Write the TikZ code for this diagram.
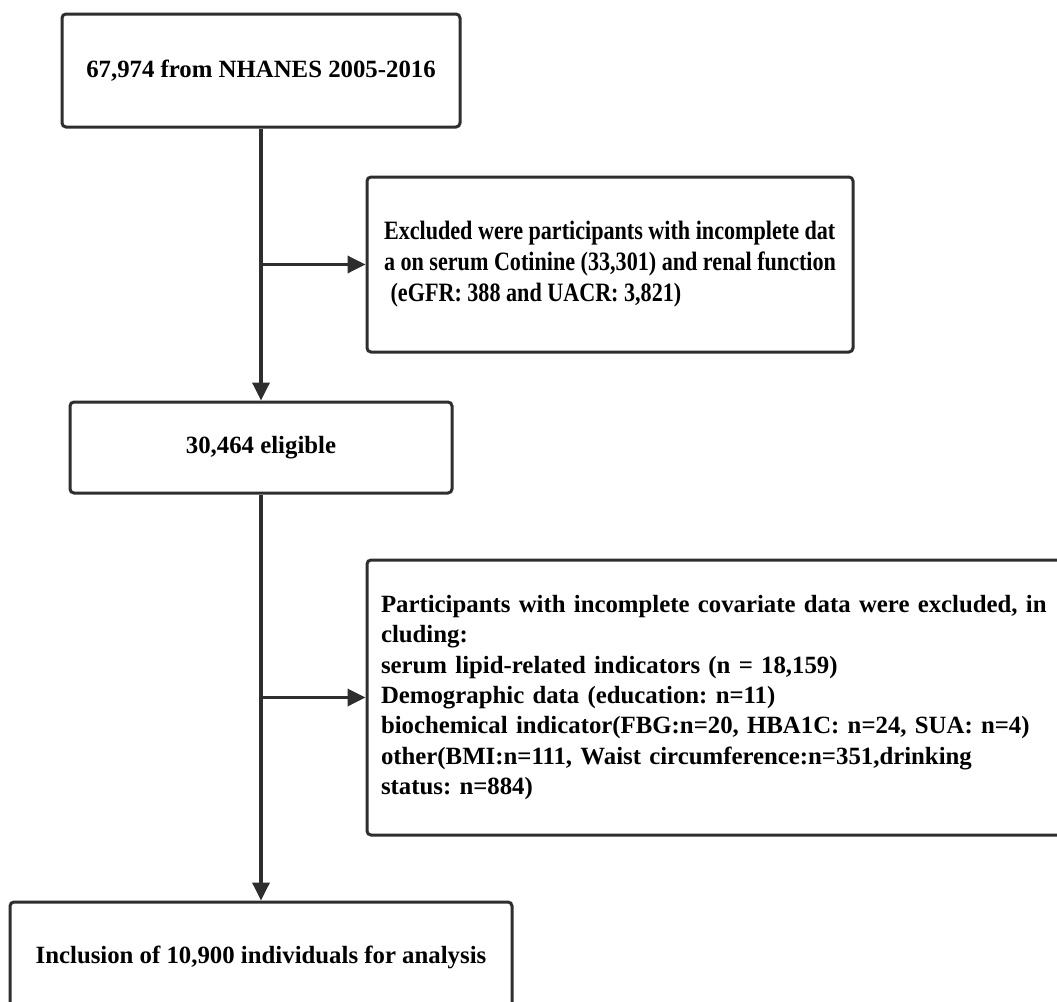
\documentclass[tikz,border=0pt]{standalone}
\usepackage{fontspec}
\setmainfont{Liberation Serif}
\newfontfamily\estreita{Liberation Serif}[FakeStretch=0.835]
\usepackage{xcolor}
\usetikzlibrary{arrows.meta}
\definecolor{linha}{HTML}{2E2E2E}

\tikzset{
  caixa/.style={draw=linha, line width=3pt, rounded corners=4pt, fill=white,
    inner sep=0pt, font=\frenchspacing\fontsize{24.8}{30.3}\selectfont\bfseries},
  caixaestreita/.style={caixa, font=\frenchspacing\estreita\fontsize{26.5}{31}\selectfont\bfseries},
  seta/.style={draw=linha, line width=3.5pt, -{Triangle[length=18pt,width=17pt]}}
}

\begin{document}
\begin{tikzpicture}[x=1pt,y=-1pt]
        \useasboundingbox (0,0) rectangle (1057,1001);

        % Caixas principais
        \node[caixa, minimum width=398pt, minimum height=113pt] (total) at (261,70.5) {67,974 from NHANES 2005-2016};
        \node[caixa, minimum width=382pt, minimum height=91pt] (elegivel) at (261,447.5) {30,464 eligible};
        \node[caixa, minimum width=502pt, minimum height=110pt] (incluidos) at (261,957) {Inclusion of 10,900 individuals for analysis};

        % Caixas de exclusao
        \node[caixaestreita, minimum width=486pt, minimum height=175pt, align=left] (excl1) at (610,264.5)
            {Excluded were participants with incomplete dat\\
             a on serum Cotinine (33,301) and renal function\\
             \hspace*{0.25em}(eGFR: 388 and UACR: 3,821)};
        \node[caixa, minimum height=275pt, inner xsep=14pt, text width=692pt, align=left] (excl2) at (727,697.5)
            {Participants with incomplete covariate data were excluded, in\\
             cluding:\\
             serum lipid-related indicators (n = 18,159)\\
             Demographic data (education: n=11)\\
             biochemical indicator(FBG:n=20, HBA1C: n=24, SUA: n=4)\\
             other(BMI:n=111, Waist circumference:n=351,drinking\\
             status: n=884)};

        % Setas verticais
        \draw[seta] (total) -- (elegivel);
        \draw[seta] (elegivel) -- (incluidos);

        % Ramos para as exclusoes
        \coordinate (ramo1) at (total.south |- excl1.west);
        \coordinate (ramo2) at (elegivel.south |- excl2.west);
        \draw[seta] (ramo1) -- (excl1.west);
        \draw[seta] (ramo2) -- (excl2.west);
    \end{tikzpicture}
\end{document}
